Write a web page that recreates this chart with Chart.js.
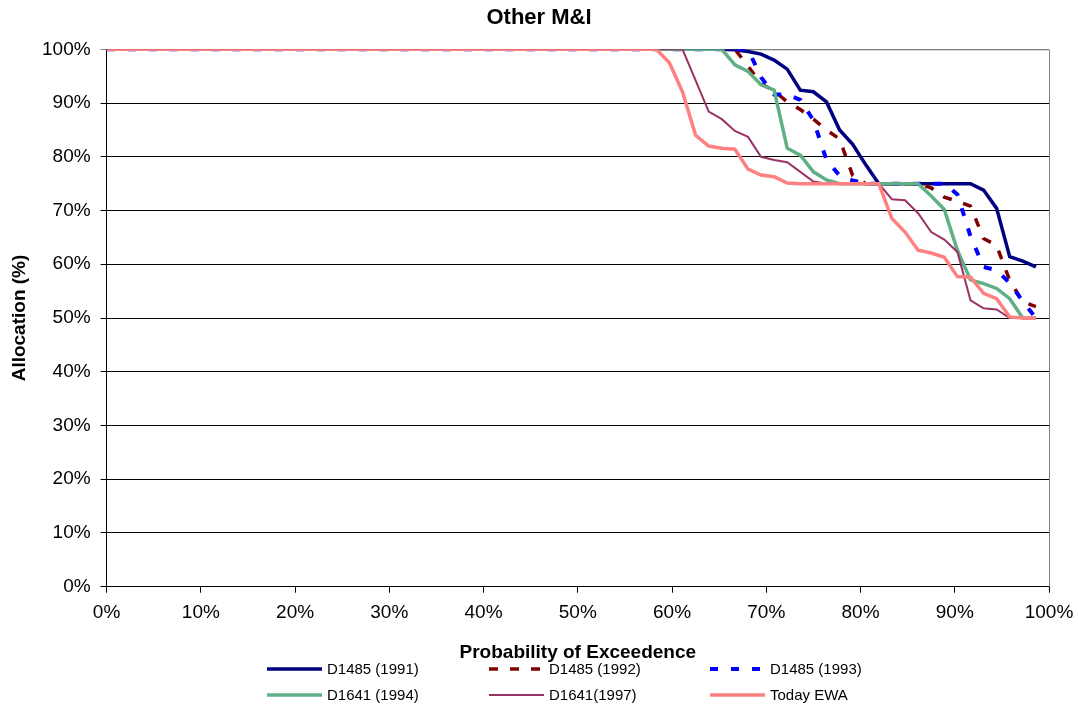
<!DOCTYPE html>
<html>
<head>
<meta charset="utf-8">
<script src="https://cdn.jsdelivr.net/npm/chart.js@4.4.1/dist/chart.umd.min.js"></script>
<style>
  html, body { margin: 0; padding: 0; background: #fff; }
</style>
</head>
<body>
<canvas id="chart" width="1078" height="706"></canvas>
<script>
// probability of exceedence (%), one point per year
const exceedance = [
  0, 1.39, 2.78, 4.17, 5.56, 6.94, 8.33, 9.72, 11.11, 12.5, 13.89, 15.28,
  16.67, 18.06, 19.44, 20.83, 22.22, 23.61, 25, 26.39, 27.78, 29.17, 30.56, 31.94,
  33.33, 34.72, 36.11, 37.5, 38.89, 40.28, 41.67, 43.06, 44.44, 45.83, 47.22, 48.61,
  50, 51.39, 52.78, 54.17, 55.56, 56.94, 58.33, 59.72, 61.11, 62.5, 63.89, 65.28,
  66.67, 68.06, 69.44, 70.83, 72.22, 73.61, 75, 76.39, 77.78, 79.17, 80.56, 81.94,
  83.33, 84.72, 86.11, 87.5, 88.89, 90.28, 91.67, 93.06, 94.44, 95.83, 97.22, 98.61
];

// allocation (%)
const d1485_1991 = [
  100, 100, 100, 100, 100, 100, 100, 100, 100, 100, 100, 100,
  100, 100, 100, 100, 100, 100, 100, 100, 100, 100, 100, 100,
  100, 100, 100, 100, 100, 100, 100, 100, 100, 100, 100, 100,
  100, 100, 100, 100, 100, 100, 100, 100, 100, 100, 100, 100,
  99.9, 99.6, 99.1, 98.0, 96.3, 92.4, 92.1, 90.2, 85.0, 82.3, 78.5, 75,
  75, 75, 75, 75, 75, 75, 75, 73.8, 70.4, 61.4, 60.6, 59.5
];
const d1485_1992 = [
  100, 100, 100, 100, 100, 100, 100, 100, 100, 100, 100, 100,
  100, 100, 100, 100, 100, 100, 100, 100, 100, 100, 100, 100,
  100, 100, 100, 100, 100, 100, 100, 100, 100, 100, 100, 100,
  100, 100, 100, 100, 100, 100, 100, 100, 100, 100, 100, 100,
  100, 96.9, 93.6, 92.3, 90.2, 88.8, 87.0, 85.0, 83.3, 76.5, 75, 75,
  75, 75, 75, 74.2, 72.5, 71.7, 70.8, 64.8, 63.5, 57.0, 53.0, 52.1
];
const d1485_1993 = [
  100, 100, 100, 100, 100, 100, 100, 100, 100, 100, 100, 100,
  100, 100, 100, 100, 100, 100, 100, 100, 100, 100, 100, 100,
  100, 100, 100, 100, 100, 100, 100, 100, 100, 100, 100, 100,
  100, 100, 100, 100, 100, 100, 100, 100, 100, 100, 100, 100,
  100, 100, 94.8, 91.6, 91.6, 90.6, 86.8, 79.4, 76.5, 75.6, 75, 75,
  75, 75, 75, 75, 75, 73.0, 65.2, 59.5, 58.9, 56.5, 53.1, 50
];
const d1641_1994 = [
  100, 100, 100, 100, 100, 100, 100, 100, 100, 100, 100, 100,
  100, 100, 100, 100, 100, 100, 100, 100, 100, 100, 100, 100,
  100, 100, 100, 100, 100, 100, 100, 100, 100, 100, 100, 100,
  100, 100, 100, 100, 100, 100, 100, 100, 100, 100, 100, 100,
  97.1, 95.9, 93.4, 92.4, 81.6, 80.3, 77.2, 75.7, 75, 75, 75, 75,
  75, 75, 75, 72.7, 70.2, 62.6, 57.1, 56.4, 55.5, 53.6, 50, 50
];
const d1641_1997 = [
  100, 100, 100, 100, 100, 100, 100, 100, 100, 100, 100, 100,
  100, 100, 100, 100, 100, 100, 100, 100, 100, 100, 100, 100,
  100, 100, 100, 100, 100, 100, 100, 100, 100, 100, 100, 100,
  100, 100, 100, 100, 100, 100, 100, 100, 100, 94.2, 88.4, 87.0,
  84.8, 83.7, 80.0, 79.4, 79.0, 77.2, 75.4, 75, 75, 75, 75, 75,
  72.1, 71.9, 69.5, 66.0, 64.6, 62.3, 53.3, 51.8, 51.6, 50, 50, 50
];
const todayEwa = [
  100, 100, 100, 100, 100, 100, 100, 100, 100, 100, 100, 100,
  100, 100, 100, 100, 100, 100, 100, 100, 100, 100, 100, 100,
  100, 100, 100, 100, 100, 100, 100, 100, 100, 100, 100, 100,
  100, 100, 100, 100, 100, 100, 100, 97.5, 92.1, 84.0, 82.0, 81.6,
  81.4, 77.7, 76.6, 76.3, 75.1, 75, 75, 75, 75, 75, 75, 75,
  68.5, 66.0, 62.6, 62.1, 61.3, 57.7, 57.6, 54.6, 53.6, 50.2, 50, 50
];

const seriesNames = ['D1485 (1991)', 'D1485 (1992)', 'D1485 (1993)', 'D1641 (1994)', 'D1641(1997)', 'Today EWA'];
const seriesValues = [d1485_1991, d1485_1992, d1485_1993, d1641_1994, d1641_1997, todayEwa];

const FONT = '"Liberation Sans", Arial, sans-serif';

const styles = [
  { color: '#000080', width: 3.5, dash: [] },
  { color: '#800000', width: 3.5, dash: [9, 12] },
  { color: '#0000ff', width: 4, dash: [8, 13] },
  { color: '#5fb085', width: 3.5, dash: [] },
  { color: '#993366', width: 2, dash: [] },
  { color: '#ff8080', width: 3.5, dash: [] }
];

const datasets = seriesValues.map((vals, i) => ({
  label: seriesNames[i],
  data: exceedance.map((x, j) => ({ x: x, y: vals[j] })),
  borderColor: styles[i].color,
  borderWidth: styles[i].width,
  borderDash: styles[i].dash,
  pointRadius: 0,
  tension: 0,
  fill: false,
  order: seriesValues.length - i
}));

// legend laid out in 3 columns x 2 rows under the axis title
const legendCols = [267, 489, 710];
const legendRows = [669, 695];

const gridLegend = {
  id: 'gridLegend',
  afterDraw(chart) {
    const ctx = chart.ctx;
    ctx.save();
    ctx.font = '15px ' + FONT;
    ctx.textBaseline = 'middle';
    ctx.fillStyle = '#000';
    chart.data.datasets.forEach((ds, i) => {
      const x = legendCols[i % 3];
      const y = legendRows[Math.floor(i / 3)];
      ctx.beginPath();
      ctx.strokeStyle = ds.borderColor;
      ctx.lineWidth = ds.borderWidth;
      ctx.setLineDash(ds.borderDash);
      ctx.moveTo(x, y);
      ctx.lineTo(x + 55, y);
      ctx.stroke();
      ctx.setLineDash([]);
      ctx.fillText(ds.label, x + 60, y + 1);
    });
    ctx.restore();
  }
};

const plotBorder = {
  id: 'plotBorder',
  beforeDatasetsDraw(chart) {
    const { ctx, chartArea: a } = chart;
    ctx.save();
    ctx.strokeStyle = '#808080';
    ctx.lineWidth = 1;
    ctx.beginPath();
    ctx.moveTo(a.left, a.top + 0.5);
    ctx.lineTo(a.right + 0.5, a.top + 0.5);
    ctx.lineTo(a.right + 0.5, a.bottom);
    ctx.stroke();
    ctx.restore();
  }
};

new Chart(document.getElementById('chart'), {
  type: 'line',
  data: { datasets: datasets },
  options: {
    responsive: false,
    animation: false,
    layout: { padding: { left: 0, right: 0, top: 0, bottom: 42 } },
    plugins: {
      legend: { display: false },
      tooltip: { enabled: false },
      title: {
        display: true,
        text: 'Other M&I',
        color: '#000',
        font: { family: FONT, size: 22, weight: 'bold' },
        padding: { top: 4.8, bottom: 18.1 }
      }
    },
    scales: {
      x: {
        type: 'linear',
        min: 0,
        max: 100,
        afterFit: s => { s.paddingRight = 29; },
        ticks: {
          stepSize: 10,
          color: '#000',
          padding: 9,
          maxRotation: 0,
          font: { family: FONT, size: 19 },
          callback: v => v + '%'
        },
        grid: { drawOnChartArea: false, drawTicks: true, tickLength: 6, color: '#000' },
        border: { color: '#000', width: 1 },
        title: {
          display: true,
          text: 'Probability of Exceedence',
          color: '#000',
          font: { family: FONT, size: 19, weight: 'bold' },
          padding: { top: 7.7, bottom: 0 }
        }
      },
      y: {
        min: 0,
        max: 100,
        ticks: {
          stepSize: 10,
          color: '#000',
          padding: 10,
          font: { family: FONT, size: 19 },
          callback: v => v + '%'
        },
        grid: {
          color: c => (c.tick && c.tick.value === 100 ? '#808080' : '#000'),
          tickLength: 6
        },
        border: { color: '#000', width: 1 },
        title: {
          display: true,
          text: 'Allocation (%)',
          color: '#000',
          font: { family: FONT, size: 19, weight: 'bold' },
          padding: { top: 8.6, bottom: 0.6 }
        }
      }
    }
  },
  plugins: [plotBorder, gridLegend]
});
</script>
</body>
</html>
